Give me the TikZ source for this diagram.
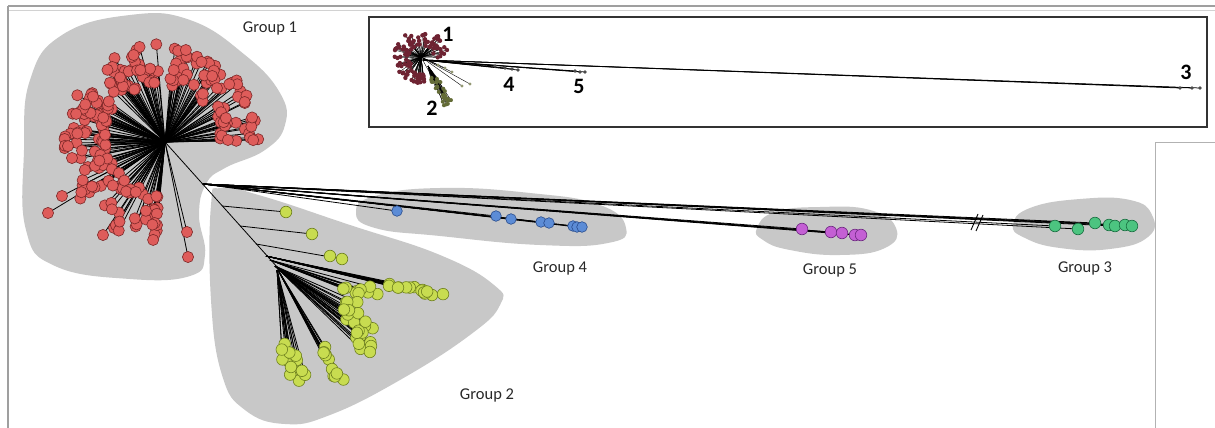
\documentclass[tikz,border=0pt]{standalone}
\usepackage{fontspec}
\setmainfont{Carlito}
\usetikzlibrary{calc}
\definecolor{blob}{RGB}{200,200,200}
\definecolor{redf}{RGB}{222,92,90}
\definecolor{redd}{RGB}{125,40,40}
\definecolor{grnf}{RGB}{200,220,80}
\definecolor{grnd}{RGB}{110,128,30}
\definecolor{bluf}{RGB}{92,140,214}
\definecolor{blud}{RGB}{40,75,140}
\definecolor{purf}{RGB}{196,96,212}
\definecolor{purd}{RGB}{110,40,130}
\definecolor{tealf}{RGB}{76,196,128}
\definecolor{teald}{RGB}{25,110,65}
\definecolor{mred}{RGB}{110,35,50}
\definecolor{molv}{RGB}{100,108,55}
\definecolor{txt}{RGB}{40,40,40}
\tikzset{
  branch/.style={black,line width=0.8pt},
  mbranch/.style={black,line width=0.4pt},
  reddot/.style={fill=redf,draw=redd,line width=0.6pt},
  grndot/.style={fill=grnf,draw=grnd,line width=0.6pt},
  bludot/.style={fill=bluf,draw=blud,line width=0.6pt},
  purdot/.style={fill=purf,draw=purd,line width=0.6pt},
  tealdot/.style={fill=tealf,draw=teald,line width=0.6pt},
  blobfill/.style={fill=blob},
  grplabel/.style={text=txt,font=\fontsize{16.5}{18}\selectfont,inner sep=0pt},
  numlabel/.style={text=black,font=\fontsize{22}{24}\selectfont\bfseries,inner sep=0pt},
}
% #1,#2 origin; #3..#6 segment; #7 noise; #8 count; #9 mode (0 lines, 1 dots)
\newcommand\gclust[9]{%
  \foreach \k in {1,...,#8}{%
    \pgfmathsetmacro\gt{rnd}%
    \pgfmathsetmacro\gcx{#3+\gt*(#5-#3)+rand*#7}%
    \pgfmathsetmacro\gcy{#4+\gt*(#6-#4)+rand*#7}%
    \ifnum#9=0 \draw[branch] (#1,#2) -- (\gcx,\gcy);\else
    \path[grndot] (\gcx,\gcy) circle (5.8pt);\fi
  }}
\newcommand\allclust[1]{%
  \pgfmathsetseed{5}%
  \gclust{266}{256}{388}{284}{443}{296}{3}{14}{#1}%
  \gclust{270}{260}{343}{287}{378}{292}{4}{9}{#1}%
  \gclust{275}{266}{348}{298}{372}{348}{10}{24}{#1}%
  \gclust{277}{270}{282}{350}{304}{376}{8}{15}{#1}%
  \gclust{278}{270}{320}{343}{342}{388}{4}{11}{#1}%
}
% red lobes: #1 seed, #2 n, #3 angle from, #4 angle span, #5 rmin, #6 rspan, #7 mode
\newcommand\redlobe[7]{%
  \pgfmathsetseed{#1}%
  \foreach \k in {1,...,#2}{%
    \pgfmathsetmacro\ang{#3+rnd*#4}%
    \pgfmathsetmacro\rad{#5+rnd*#6}%
    \ifnum#7=0 \draw[branch] (C) -- ++(\ang:\rad);\else
    \path[reddot] ($(C)+(\ang:\rad)$) circle (5.6pt);\fi
  }}
\newcommand\allred[1]{%
  \redlobe{11}{80}{185}{82}{60}{40}{#1}%
  \redlobe{12}{70}{274}{88}{55}{40}{#1}%
  \redlobe{13}{80}{95}{92}{52}{50}{#1}%
}
\begin{document}
\begin{tikzpicture}[x=1pt,y=-1pt]
\useasboundingbox (0,0) rectangle (1215,428);
\fill[white] (0,0) rectangle (1215,428);
% frame
\draw[gray!75,line width=2pt] (8,6.5) -- (1215,6.5);
\draw[gray!35,line width=0.8pt] (8,10.5) -- (1215,10.5);
\draw[gray!75,line width=2pt] (8,6.5) -- (8,428);
\draw[gray!60,line width=0.8pt] (1215,142) -- (1155,142) -- (1155,428);
% inset
\draw[black!80,line width=1.8pt] (369,17) rectangle (1207,127);
% key points
\coordinate (C) at (165,142);
\coordinate (H) at (203,184);
\coordinate (F) at (278,268);
% blobs
\fill[blobfill] plot[smooth cycle,tension=0.75] coordinates {(24,150) (30,80) (62,35) (130,15) (190,20) (245,55) (280,93) (285,125) (265,150) (225,168) (206,184) (199,215) (205,255) (190,276) (130,279) (55,266) (26,230)};
\fill[blobfill] plot[smooth cycle,tension=0.75] coordinates {(211,205) (221,188) (262,196) (350,225) (440,255) (494,285) (500,305) (470,335) (400,380) (330,415) (285,424) (245,410) (222,375) (211,300)};
\fill[blobfill] plot[smooth cycle,tension=0.8] coordinates {(356,212) (375,196) (440,188) (530,193) (600,205) (626,228) (608,243) (540,245) (440,236) (375,228)};
\fill[blobfill] plot[smooth cycle,tension=0.8] coordinates {(757,228) (775,212) (820,207) (870,210) (896,228) (885,248) (840,255) (790,250) (763,240)};
\fill[blobfill] plot[smooth cycle,tension=0.8] coordinates {(1013,225) (1030,208) (1080,199) (1130,200) (1152,215) (1148,237) (1110,249) (1060,248) (1025,238)};
% ---------- lines ----------
\allred{0}
\foreach \p in {(48,213),(103,235),(188,257),(187,232),(72,158),(62,196)}{%
  \draw[branch] (C) -- \p;
}
\draw[branch] (C) -- (F);
\draw[branch] (222,206) -- (286,212);
\draw[branch] (240,226) -- (312,234);
\draw[branch] (256,244) -- (342,259);
\allclust{0}
\foreach \p in {(397,211),(496,216),(511,219),(541,222),(549,223),(573,226),(577,227),(582,227),
  (802,229),(831,232),(842,233),(855,235),(861,235),
  (1055,226),(1078,229),(1095,223),(1109,225),(1115,226),(1125,225),(1132,226)}{%
  \draw[branch] (H) -- \p;
}
% ---------- dots ----------
\allred{1}
\foreach \p in {(48,213),(103,235),(188,257),(187,232),(72,158),(62,196)}{%
  \path[reddot] \p circle (5.6pt);
}
\foreach \p in {(286,212),(312,234),(330,256),(342,259)}{\path[grndot] \p circle (5.8pt);}
\allclust{1}
\foreach \p in {(397,211),(496,216),(511,219),(541,222),(549,223),(573,226),(577,227),(582,227)}{%
  \path[bludot] \p circle (5.3pt);}
\foreach \p in {(802,229),(831,232),(842,233),(855,235),(861,235)}{%
  \path[purdot] \p circle (5.8pt);}
\foreach \p in {(1055,226),(1078,229),(1095,223),(1109,225),(1115,226),(1125,225),(1132,226)}{%
  \path[tealdot] \p circle (5.8pt);}
% break mark
\draw[black,line width=0.9pt] (971,230) -- (978,214);
\draw[black,line width=0.9pt] (976,231) -- (983,215);
% ---------- inset mini tree ----------
\coordinate (h) at (421,57);
\pgfmathsetseed{23}
\foreach \k in {1,...,110}{%
  \pgfmathsetmacro\ang{80+rnd*283}%
  \pgfmathsetmacro\rad{12+rnd*15}%
  \draw[mbranch] (h) -- ++(\ang:\rad);
}
\draw[mbranch] (h) -- (448,106);
\pgfmathsetseed{31}
\foreach \k in {1,...,30}{%
  \pgfmathsetmacro\gt{rnd}%
  \pgfmathsetmacro\gcx{433+\gt*16+rand*4}%
  \pgfmathsetmacro\gcy{78+\gt*28+rand*4}%
  \draw[mbranch] (428,66) -- (\gcx,\gcy);
}
\foreach \p in {(438,65),(445,68),(452,72),(470,84),(462,86)}{\draw[mbranch] (h) -- \p;}
\foreach \p in {(495,66),(505,68),(512,69),(518,70),(575,71),(580,72),(585,72),(1180,88),(1192,88),(1200,88)}{%
  \draw[black,line width=0.75pt] (423,60) -- \p;}
\pgfmathsetseed{23}
\foreach \k in {1,...,110}{%
  \pgfmathsetmacro\ang{80+rnd*283}%
  \pgfmathsetmacro\rad{12+rnd*15}%
  \fill[mred] ($(h)+(\ang:\rad)$) circle (2.2pt);
}
\pgfmathsetseed{31}
\foreach \k in {1,...,30}{%
  \pgfmathsetmacro\gt{rnd}%
  \pgfmathsetmacro\gcx{433+\gt*16+rand*4}%
  \pgfmathsetmacro\gcy{78+\gt*28+rand*4}%
  \fill[molv] (\gcx,\gcy) circle (2pt);
}
\foreach \p in {(438,65),(445,68),(452,72),(470,84),(462,86)}{\fill[molv!70] \p circle (1.6pt);}
\foreach \p in {(495,66),(505,68),(512,69),(518,70),(575,71),(580,72),(585,72),(1180,88),(1192,88),(1200,88)}{%
  \fill[gray!60!black] \p circle (1.8pt);}
% labels
\node[grplabel] (g1) at (270,28) {Group 1};
\node[grplabel] (g2) at (487,395) {Group 2};
\node[grplabel] (g4) at (560,268) {Group 4};
\node[grplabel] (g5) at (830,270) {Group 5};
\node[grplabel] (g3) at (1085,268) {Group 3};
\node[numlabel] (n1) at (448,34) {1};
\node[numlabel] (n2) at (432,108) {2};
\node[numlabel] (n4) at (509,84) {4};
\node[numlabel] (n5) at (579,86) {5};
\node[numlabel] (n3) at (1186,72) {3};
\end{tikzpicture}
\end{document}
